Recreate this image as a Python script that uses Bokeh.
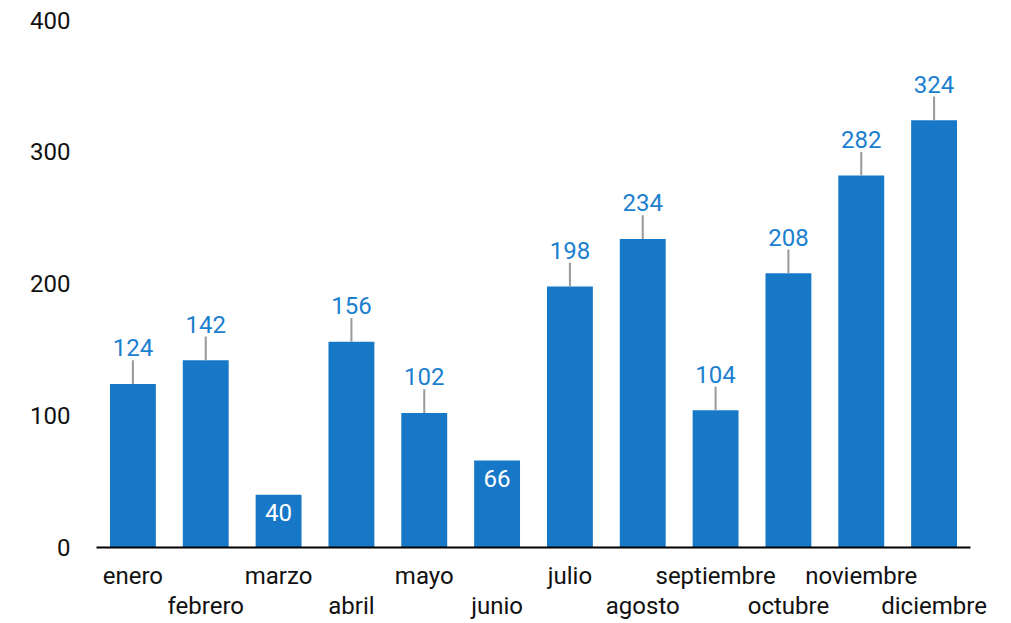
from bokeh.plotting import figure
from bokeh.models import Range1d, FixedTicker, LinearAxis
from bokeh.core.properties import value
from bokeh.embed import file_html
from bokeh.resources import INLINE

months = ["enero", "febrero", "marzo", "abril", "mayo", "junio",
          "julio", "agosto", "septiembre", "octubre", "noviembre", "diciembre"]
values = [124, 142, 40, 156, 102, 66, 198, 234, 104, 208, 282, 324]
y_ticks = [0, 100, 200, 300, 400]

BAR = "#1878c8"
LABEL = "#1b7fd0"
FONT = "Roboto"
FS = "24px"

xs = list(range(len(months)))
inside = [v < 80 for v in values]
out_x = [x for x, i in zip(xs, inside) if not i]
out_v = [v for v, i in zip(values, inside) if not i]
in_x = [x for x, i in zip(xs, inside) if i]
in_v = [v for v, i in zip(values, inside) if i]

p = figure(width=1010, height=622, output_backend="svg", toolbar_location=None,
           x_range=Range1d(-0.5, len(months) - 0.5), y_range=Range1d(0, 414.8),
           min_border_left=96, min_border_right=40, min_border_top=0, min_border_bottom=75,
           x_axis_location=None, y_axis_location=None)
p.outline_line_color = None
p.xgrid.visible = False
p.ygrid.visible = False

p.vbar(x=xs, top=values, bottom=0, width=0.63, fill_color=BAR, line_color=None)

# leader lines for outside labels
p.segment(x0=out_x, y0=out_v, x1=out_x, y1=[v + 18 for v in out_v],
          line_color="#999999", line_width=2)
p.text(x=out_x, y=out_v, text=[str(v) for v in out_v], y_offset=-36,
       text_align="center", text_baseline="alphabetic", text_color=LABEL,
       text_font=value(FONT), text_font_size=FS)
p.text(x=in_x, y=in_v, text=[str(v) for v in in_v], y_offset=18,
       text_align="center", text_baseline="alphabetic", text_color="white",
       text_font=value(FONT), text_font_size=FS)

# y axis
ya = LinearAxis(ticker=FixedTicker(ticks=y_ticks))
ya.axis_line_color = None
ya.major_tick_line_color = None
ya.minor_tick_line_color = None
ya.major_tick_out = 0
ya.major_label_standoff = 26
ya.major_label_text_font = FONT
ya.major_label_text_font_size = FS
ya.major_label_text_color = "#111111"
p.add_layout(ya, "left")

# x axes: two staggered rows
row1 = xs[0::2]
row2 = xs[1::2]
xa1 = LinearAxis(ticker=FixedTicker(ticks=row1),
                 major_label_overrides={x: months[x] for x in row1})
xa1.axis_line_color = "black"
xa1.axis_line_width = 2
xa1.major_tick_line_color = None
xa1.minor_tick_line_color = None
xa1.major_label_standoff = 8
xa1.major_label_text_font = FONT
xa1.major_label_text_font_size = FS
xa1.major_label_text_color = "#111111"
p.add_layout(xa1, "below")

xa2 = LinearAxis(ticker=FixedTicker(ticks=row2),
                 major_label_overrides={x: months[x] for x in row2})
xa2.axis_line_color = None
xa2.major_tick_line_color = None
xa2.minor_tick_line_color = None
xa2.major_tick_out = 0
xa2.major_label_standoff = -1
xa2.major_label_text_font = FONT
xa2.major_label_text_font_size = FS
xa2.major_label_text_color = "#111111"
p.add_layout(xa2, "below")

open("out.html", "w").write(file_html(p, INLINE))
